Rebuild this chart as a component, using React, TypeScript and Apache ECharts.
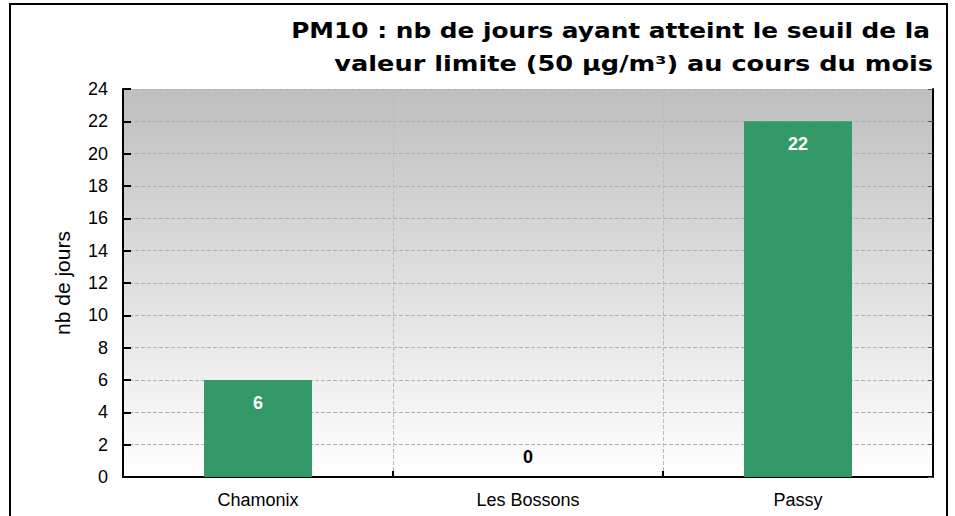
import React, { useEffect, useRef } from "react";
import * as echarts from "echarts";

const categories = ["Chamonix", "Les Bossons", "Passy"];
const values = [6, 0, 22];
const yTicks = { min: 0, max: 24, interval: 2 };
const titleLines = ["PM10 : nb de jours ayant atteint le seuil de la", "valeur limite (50 µg/m³) au cours du mois"];
const yAxisName = "nb de jours";

export default function App() {
  const ref = useRef<HTMLDivElement>(null);
  useEffect(() => {
    if (!ref.current) return;
    const chart = echarts.init(ref.current, undefined, { renderer: "svg" });
    const font = "'Liberation Sans', Arial, sans-serif";
    const titleFont = "bold 20.5px 'DejaVu Sans', Verdana, sans-serif";
    chart.setOption({
      animation: false,
      backgroundColor: "#ffffff",
      grid: {
        left: 123,
        right: 22,
        top: 89,
        bottom: 39,
        show: true,
        borderWidth: 0,
        backgroundColor: new echarts.graphic.LinearGradient(0, 0, 0, 1, [
          { offset: 0, color: "#bfbfbf" },
          { offset: 1, color: "#ffffff" },
        ]),
      },
      graphic: [
        {
          type: "rect",
          shape: { x: 10, y: 4, width: 937, height: 540 },
          style: { fill: "none", stroke: "#000", lineWidth: 2 },
          silent: true,
        },
        {
          type: "text",
          x: 930,
          y: 31,
          scaleX: 1.21,
          style: {
            text: titleLines[0],
            textAlign: "right",
            textVerticalAlign: "middle",
            font: titleFont,
            fill: "#000",
          },
        },
        {
          type: "text",
          x: 933,
          y: 63,
          scaleX: 1.25,
          style: {
            text: titleLines[1],
            textAlign: "right",
            textVerticalAlign: "middle",
            font: titleFont,
            fill: "#000",
          },
        },
      ],
      xAxis: {
        type: "category",
        data: categories,
        axisLine: { lineStyle: { color: "#000", width: 2 } },
        axisTick: { show: true, inside: true, length: 6, lineStyle: { color: "#000", width: 2 } },
        axisLabel: { color: "#000", fontFamily: font, fontSize: 18, margin: 14 },
        splitLine: { show: true, lineStyle: { color: "#bbbbbb", type: "dashed", width: 1 } },
      },
      yAxis: [
        {
          type: "value",
          min: yTicks.min,
          max: yTicks.max,
          interval: yTicks.interval,
          name: yAxisName,
          nameLocation: "middle",
          nameGap: 50,
          nameTextStyle: { color: "#000", fontFamily: font, fontSize: 21 },
          axisLine: { show: true, lineStyle: { color: "#000", width: 2 } },
          axisTick: { show: true, inside: true, length: 8, lineStyle: { color: "#000", width: 2 } },
          axisLabel: { color: "#000", fontFamily: font, fontSize: 18, margin: 15 },
          splitLine: { show: true, lineStyle: { color: "#b0b0b0", type: "dashed", width: 1 } },
        },
        {
          type: "value",
          min: yTicks.min,
          max: yTicks.max,
          interval: yTicks.interval,
          position: "right",
          axisLine: { show: true, lineStyle: { color: "#000", width: 2 } },
          axisTick: { show: true, inside: true, length: 5, lineStyle: { color: "#555", width: 1 } },
          axisLabel: { show: false },
          splitLine: { show: false },
        },
      ],
      series: [
        {
          type: "bar",
          barWidth: "40%",
          data: values.map((v) =>
            v === 0
              ? { value: v, label: { position: "top", color: "#000", distance: 11 } }
              : { value: v }
          ),
          itemStyle: { color: "#339966" },
          label: {
            show: true,
            position: "insideTop",
            distance: 14,
            color: "#fff",
            fontWeight: "bold",
            fontFamily: font,
            fontSize: 18,
          },
        },
      ],
    });
    return () => chart.dispose();
  }, []);
  return <div ref={ref} style={{ position: "fixed", left: 0, top: 0, width: 955, height: 516 }} />;
}
